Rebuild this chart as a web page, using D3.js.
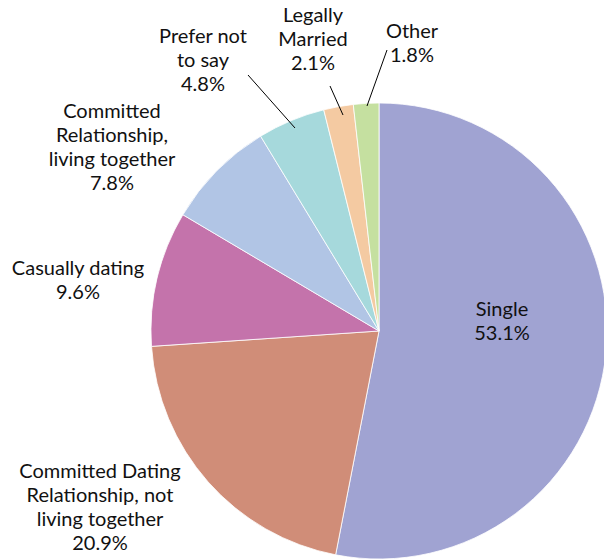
<!DOCTYPE html>
<html><head><meta charset="utf-8">
<script src="https://cdn.jsdelivr.net/npm/d3@7"></script>
<style>body{margin:0;background:#fff;}svg{display:block;font-family:Lato,sans-serif;}</style>
</head><body><svg id="c" width="604" height="560"></svg>
<script>
const categories = ["Single","Committed Dating Relationship, not living together","Casually dating","Committed Relationship, living together","Prefer not to say","Legally Married","Other"];
const values = [53.1, 20.9, 9.6, 7.8, 4.8, 2.1, 1.8];
const colors = ["#a0a3d2","#d08d78","#c473ab","#b1c5e5","#a6d9dc","#f4caa2","#c5e0a0"];
const labelLines = [
  ["Single","53.1%"],
  ["Committed Dating","Relationship, not","living together","20.9%"],
  ["Casually dating","9.6%"],
  ["Committed","Relationship,","living together","7.8%"],
  ["Prefer not","to say","4.8%"],
  ["Legally","Married","2.1%"],
  ["Other","1.8%"]
];
// label anchor (center x, first baseline y)
const labelPos = [[502,316],[100,478],[78,275],[112,118],[203,43],[313,22],[412,38]];
// leader lines [from label, to slice] (null = none)
const leaders = [null,null,null,null,[[248,75],[295,128]],[[330,86],[343,115]],[[387,50],[367,106]]];

const svg = d3.select("#c");
const cx = 379, cy = 331, R = 228;
const pie = d3.pie().sort(null).value(d => d)(values);
const arc = d3.arc().innerRadius(0).outerRadius(R);
const g = svg.append("g").attr("transform", `translate(${cx},${cy})`);
g.selectAll("path").data(pie).join("path")
  .attr("d", arc).attr("fill", (d,i) => colors[i])
  .attr("stroke", "#fff").attr("stroke-width", 0.8);

leaders.forEach(l => {
  if (!l) return;
  svg.append("line").attr("x1", l[0][0]).attr("y1", l[0][1]).attr("x2", l[1][0]).attr("y2", l[1][1])
    .attr("stroke", "#000").attr("stroke-width", 1);
});

labelLines.forEach((lines, i) => {
  const t = svg.append("text").attr("text-anchor", "middle").attr("font-size", 20).attr("fill", "#111");
  lines.forEach((s, j) => {
    t.append("tspan").attr("x", labelPos[i][0]).attr("y", labelPos[i][1] + j * 24).text(s);
  });
});
</script></body></html>
